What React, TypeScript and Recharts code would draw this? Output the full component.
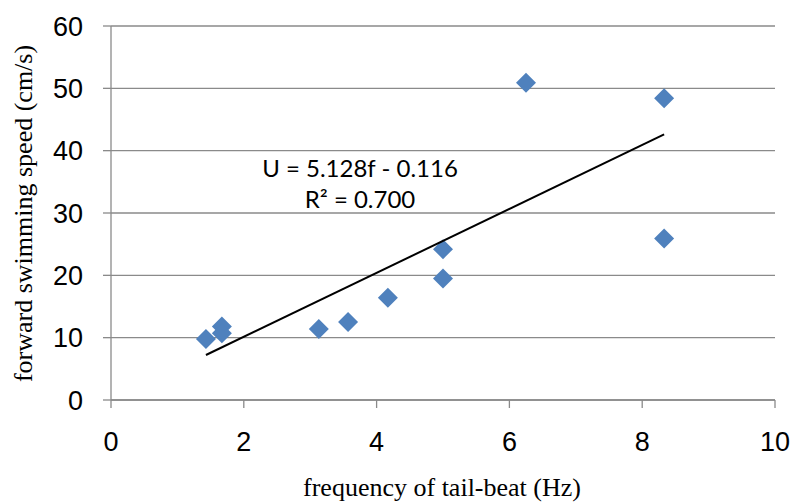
import React from 'react';
import { ScatterChart, Scatter, XAxis, YAxis, CartesianGrid } from 'recharts';

const freqHz = [1.43, 1.67, 1.67, 3.13, 3.57, 4.17, 5.0, 5.0, 6.25, 8.33, 8.33];
const speedCms = [9.8, 11.8, 10.7, 11.4, 12.5, 16.4, 24.2, 19.5, 50.9, 48.4, 25.9];
const xTicks = [0, 2, 4, 6, 8, 10];
const yTicks = [0, 10, 20, 30, 40, 50, 60];
const slope = 5.128;
const intercept = -0.116;
const trendX = [1.43, 8.33];
const equationText = 'U = 5.128f - 0.116';
const r2Text = 'R² = 0.700';
const xTitle = 'frequency of tail-beat (Hz)';
const yTitle = 'forward swimming speed (cm/s)';

const points = freqHz.map((f, i) => ({ x: f, y: speedCms[i] }));
const trend = trendX.map((f) => ({ x: f, y: slope * f + intercept }));

const Diamond = (props: any) => {
  const { cx, cy } = props;
  if (cx == null || cy == null) return <g />;
  const h = 10;
  return (
    <polygon
      points={`${cx},${cy - h} ${cx + h},${cy} ${cx},${cy + h} ${cx - h},${cy}`}
      fill="#4F81BD"
    />
  );
};

const Empty = () => <g />;

const tickStyle = { fontFamily: '"Liberation Sans", Arial, sans-serif', fontSize: 27, fill: '#000' };

export default function App() {
  return (
    <div style={{ position: 'absolute', left: 0, top: 0, width: 792, height: 504, background: '#fff' }}>
      <ScatterChart width={792} height={504} margin={{ top: 26, right: 17, left: 0, bottom: 0 }}>
        <CartesianGrid vertical={false} stroke="#8a8a8a" strokeWidth={1.3} />
        <XAxis
          type="number"
          dataKey="x"
          domain={[0, 10]}
          ticks={xTicks}
          height={104}
          axisLine={{ stroke: '#8a8a8a', strokeWidth: 1.3 }}
          tickLine={{ stroke: '#8a8a8a', strokeWidth: 1.3 }}
          tickSize={8}
          tickMargin={24}
          tick={tickStyle}
          allowDataOverflow
        />
        <YAxis
          type="number"
          dataKey="y"
          domain={[0, 60]}
          ticks={yTicks}
          width={111}
          axisLine={{ stroke: '#8a8a8a', strokeWidth: 1.3 }}
          tickLine={{ stroke: '#8a8a8a', strokeWidth: 1.3 }}
          tickSize={8}
          tickMargin={20}
          tick={tickStyle}
          allowDataOverflow
        />
        <Scatter data={points} shape={Diamond} isAnimationActive={false} />
        <Scatter
          data={trend}
          shape={Empty}
          line={{ stroke: '#000', strokeWidth: 2 }}
          lineType="joint"
          isAnimationActive={false}
        />
      </ScatterChart>
      <svg
        width={792}
        height={504}
        style={{ position: 'absolute', left: 0, top: 0, pointerEvents: 'none' }}
      >
        <text x={360} y={177} textAnchor="middle" fontFamily='Lato, "Open Sans", sans-serif' fontSize={24} fill="#000">
          {equationText}
        </text>
        <text x={360} y={208} textAnchor="middle" fontFamily='Lato, "Open Sans", sans-serif' fontSize={24} fill="#000">
          {r2Text}
        </text>
        <text x={442} y={496} textAnchor="middle" fontFamily='"Liberation Serif", "Times New Roman", serif' fontSize={26} fill="#000">
          {xTitle}
        </text>
        <text
          x={0}
          y={0}
          transform="translate(32,213.5) rotate(-90)"
          textAnchor="middle"
          fontFamily='"Liberation Serif", "Times New Roman", serif'
          fontSize={26}
          fill="#000"
        >
          {yTitle}
        </text>
      </svg>
    </div>
  );
}
